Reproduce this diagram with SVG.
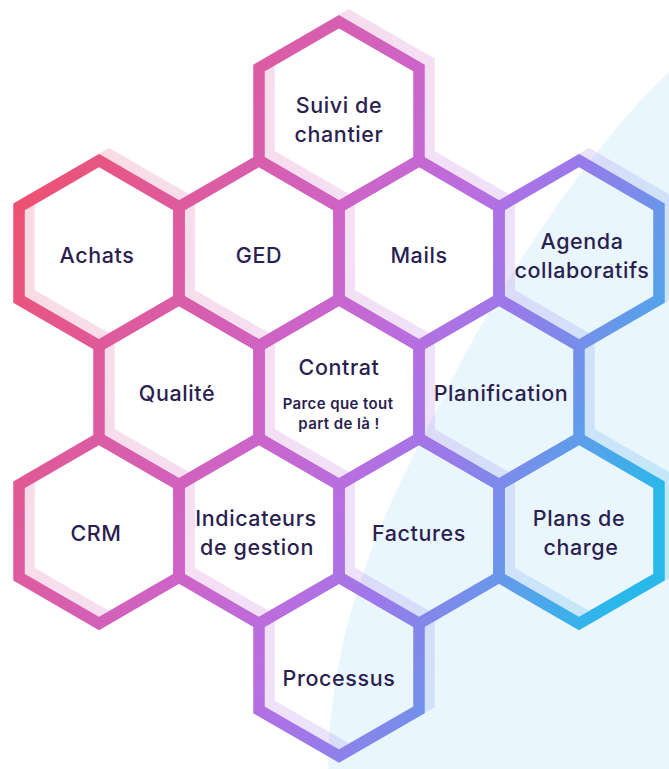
<svg xmlns="http://www.w3.org/2000/svg" width="669" height="769" viewBox="0 0 669 769">
<defs>
<linearGradient id="g" gradientUnits="userSpaceOnUse" x1="0" y1="180" x2="669" y2="480">
<stop offset="0" stop-color="#f0506a"/>
<stop offset="0.22" stop-color="#df5a9a"/>
<stop offset="0.45" stop-color="#cd64c8"/>
<stop offset="0.6" stop-color="#b86ee0"/>
<stop offset="0.7" stop-color="#9c78ea"/>
<stop offset="0.8" stop-color="#7a8cea"/>
<stop offset="0.9" stop-color="#4fa6ea"/>
<stop offset="1" stop-color="#28b8ea"/>
</linearGradient>
<style>
.hx{fill:none;stroke:url(#g);stroke-width:11.5;stroke-linejoin:miter}
.t{font-family:Inter,"Open Sans",sans-serif;font-size:21.5px;font-weight:500;fill:#2b1f50;text-anchor:middle;letter-spacing:0.6px}
.s{font-family:Inter,"Open Sans",sans-serif;font-size:15px;font-weight:600;fill:#2b1f50;text-anchor:middle;letter-spacing:0.4px}
</style>
</defs>
<rect width="669" height="769" fill="#ffffff"/>
<path d="M669,72 C622,114 520,240 440,403 C405,475 330,600 328,769 L669,769 Z" fill="#eaf6fd"/>
<g id="hex-echoes" opacity="0.2" transform="translate(10,-6)">
<path class="hx" d="M339,21.7 L419,68 L419,160.6 L339,206.9 L259,160.6 L259,68 Z"/>
<path class="hx" d="M99,160.6 L179,206.9 L179,299.5 L99,345.8 L19,299.5 L19,206.9 Z"/>
<path class="hx" d="M259,160.6 L339,206.9 L339,299.5 L259,345.8 L179,299.5 L179,206.9 Z"/>
<path class="hx" d="M419,160.6 L499,206.9 L499,299.5 L419,345.8 L339,299.5 L339,206.9 Z"/>
<path class="hx" d="M579,160.6 L659,206.9 L659,299.5 L579,345.8 L499,299.5 L499,206.9 Z"/>
<path class="hx" d="M179,299.5 L259,345.8 L259,438.4 L179,484.7 L99,438.4 L99,345.8 Z"/>
<path class="hx" d="M339,299.5 L419,345.8 L419,438.4 L339,484.7 L259,438.4 L259,345.8 Z"/>
<path class="hx" d="M499,299.5 L579,345.8 L579,438.4 L499,484.7 L419,438.4 L419,345.8 Z"/>
<path class="hx" d="M99,438.4 L179,484.7 L179,577.3 L99,623.6 L19,577.3 L19,484.7 Z"/>
<path class="hx" d="M259,438.4 L339,484.7 L339,577.3 L259,623.6 L179,577.3 L179,484.7 Z"/>
<path class="hx" d="M419,438.4 L499,484.7 L499,577.3 L419,623.6 L339,577.3 L339,484.7 Z"/>
<path class="hx" d="M579,438.4 L659,484.7 L659,577.3 L579,623.6 L499,577.3 L499,484.7 Z"/>
<path class="hx" d="M339,577.3 L419,623.6 L419,710 L339,756 L259,710 L259,623.6 Z"/>
</g>
<g id="suivi">
<path class="hx" d="M339,21.7 L419,68 L419,160.6 L339,206.9 L259,160.6 L259,68 Z"/>
<text class="t" x="339" y="113">Suivi de</text>
<text class="t" x="339" y="142">chantier</text>
</g>
<g id="achats">
<path class="hx" d="M99,160.6 L179,206.9 L179,299.5 L99,345.8 L19,299.5 L19,206.9 Z"/>
<text class="t" x="97" y="263">Achats</text>
</g>
<g id="ged">
<path class="hx" d="M259,160.6 L339,206.9 L339,299.5 L259,345.8 L179,299.5 L179,206.9 Z"/>
<text class="t" x="259" y="263">GED</text>
</g>
<g id="mails">
<path class="hx" d="M419,160.6 L499,206.9 L499,299.5 L419,345.8 L339,299.5 L339,206.9 Z"/>
<text class="t" x="419" y="263">Mails</text>
</g>
<g id="agenda">
<path class="hx" d="M579,160.6 L659,206.9 L659,299.5 L579,345.8 L499,299.5 L499,206.9 Z"/>
<text class="t" x="582" y="249">Agenda</text>
<text class="t" x="582" y="278">collaboratifs</text>
</g>
<g id="qualite">
<path class="hx" d="M179,299.5 L259,345.8 L259,438.4 L179,484.7 L99,438.4 L99,345.8 Z"/>
<text class="t" x="177" y="401">Qualité</text>
</g>
<g id="contrat">
<path class="hx" d="M339,299.5 L419,345.8 L419,438.4 L339,484.7 L259,438.4 L259,345.8 Z"/>
<text class="t" x="339" y="375">Contrat</text>
<text class="s" x="338" y="408.5">Parce que tout</text>
<text class="s" x="339" y="428.5">part de là !</text>
</g>
<g id="planification">
<path class="hx" d="M499,299.5 L579,345.8 L579,438.4 L499,484.7 L419,438.4 L419,345.8 Z"/>
<text class="t" x="501" y="401">Planification</text>
</g>
<g id="crm">
<path class="hx" d="M99,438.4 L179,484.7 L179,577.3 L99,623.6 L19,577.3 L19,484.7 Z"/>
<text class="t" x="96" y="541">CRM</text>
</g>
<g id="indicateurs">
<path class="hx" d="M259,438.4 L339,484.7 L339,577.3 L259,623.6 L179,577.3 L179,484.7 Z"/>
<text class="t" x="256" y="526">Indicateurs</text>
<text class="t" x="257" y="555">de gestion</text>
</g>
<g id="factures">
<path class="hx" d="M419,438.4 L499,484.7 L499,577.3 L419,623.6 L339,577.3 L339,484.7 Z"/>
<text class="t" x="419" y="541">Factures</text>
</g>
<g id="plans">
<path class="hx" d="M579,438.4 L659,484.7 L659,577.3 L579,623.6 L499,577.3 L499,484.7 Z"/>
<text class="t" x="579" y="526">Plans de</text>
<text class="t" x="581" y="555">charge</text>
</g>
<g id="processus">
<path class="hx" d="M339,577.3 L419,623.6 L419,710 L339,756 L259,710 L259,623.6 Z"/>
<text class="t" x="339" y="686">Processus</text>
</g>
</svg>
